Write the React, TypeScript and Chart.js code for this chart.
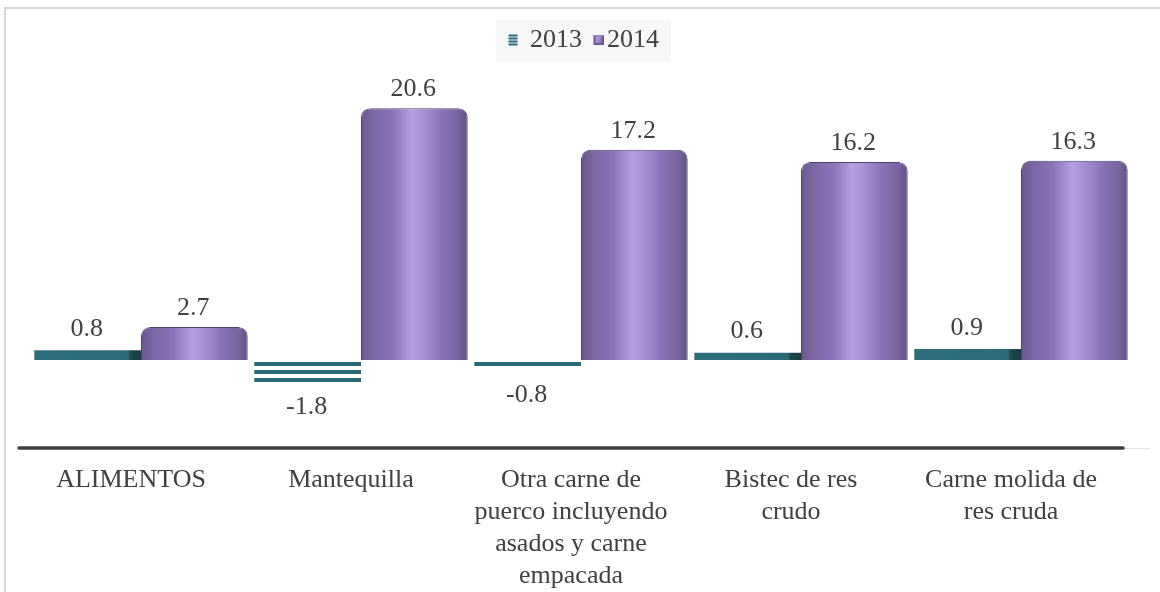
import React, { useEffect, useRef } from 'react';
import { Chart, registerables } from 'chart.js';

Chart.register(...registerables);

const categories: string[][] = [
  ['ALIMENTOS'],
  ['Mantequilla'],
  ['Otra carne de', 'puerco incluyendo', 'asados y carne', 'empacada'],
  ['Bistec de res', 'crudo'],
  ['Carne molida de', 'res cruda'],
];
const seriesNames = ['2013', '2014'];
const values2013 = [0.8, -1.8, -0.8, 0.6, 0.9];
const values2014 = [2.7, 20.6, 17.2, 16.2, 16.3];
const yMin = -7.2;
const yMax = 24.3;

const FONT = '"Liberation Serif", "Times New Roman", serif';
const TEXT = '#404040';
const TEAL = '#2b6b77';
const CAT_PCT = 0.97;
const BAR_PCT = 1;

function barRange(chart: any, dataIndex: number, datasetIndex: number) {
  const x = chart.scales.x;
  const cat = x.getPixelForValue(dataIndex);
  const catW = (x.right - x.left) / categories.length;
  const slot = (catW * CAT_PCT) / 2;
  const left = cat - (catW * CAT_PCT) / 2 + slot * datasetIndex + (slot * (1 - BAR_PCT)) / 2;
  return { left, width: slot * BAR_PCT };
}

function makeStripePattern(ctx: CanvasRenderingContext2D) {
  const c = document.createElement('canvas');
  c.width = 8;
  c.height = 8;
  const g = c.getContext('2d')!;
  g.fillStyle = '#ffffff';
  g.fillRect(0, 0, 8, 8);
  g.fillStyle = TEAL;
  g.fillRect(0, 2, 8, 4);
  return ctx.createPattern(c, 'repeat');
}

// icon canvases are 20px wide; the visible glyph sits at a chosen offset
function makeIcon2013() {
  const c = document.createElement('canvas');
  c.width = 20;
  c.height = 12;
  const g = c.getContext('2d')!;
  g.fillStyle = TEAL;
  for (let y = 0; y < 12; y += 3) g.fillRect(2, y + 0.5, 9, 2);
  return c;
}

function makeIcon2014() {
  const c = document.createElement('canvas');
  c.width = 20;
  c.height = 12;
  const g = c.getContext('2d')!;
  const ox = 10;
  const oy = 1;
  const s = 10;
  g.fillStyle = '#6a5790';
  g.fillRect(ox, oy, s, s);
  g.fillStyle = '#a088cc';
  g.beginPath();
  g.moveTo(ox, oy);
  g.lineTo(ox + s, oy);
  g.lineTo(ox + s / 2, oy + s / 2);
  g.closePath();
  g.fill();
  const grad = g.createLinearGradient(ox + 2, oy + 2, ox + s - 2, oy + s - 2);
  grad.addColorStop(0, '#b69de2');
  grad.addColorStop(1, '#8d75ba');
  g.fillStyle = grad;
  g.fillRect(ox + 2, oy + 2, s - 4, s - 4);
  return c;
}

const LEGEND_SHIFT = 6.5;

const extrasPlugin = {
  id: 'extras',
  afterLayout(chart: any) {
    const lg = chart.legend;
    if (lg) {
      lg.left += LEGEND_SHIFT;
      lg.right += LEGEND_SHIFT;
    }
  },
  beforeDraw(chart: any) {
    const ctx = chart.ctx;
    const hb = chart.legend && chart.legend.legendHitBoxes;
    if (hb && hb.length) {
      const l = hb[0].left - 20;
      const r = hb[hb.length - 1].left + hb[hb.length - 1].width + 12;
      ctx.save();
      ctx.fillStyle = '#f7f7f7';
      ctx.fillRect(l, 20, r - l, 42);
      ctx.restore();
    }
  },
  beforeDatasetsDraw(chart: any) {
    const ctx = chart.ctx;
    const x = chart.scales.x;
    const y = chart.chartArea.bottom;
    ctx.save();
    ctx.strokeStyle = '#e4e4e4';
    ctx.lineWidth = 1;
    ctx.beginPath();
    ctx.moveTo(x.right - 8, y + 0.5);
    ctx.lineTo(x.right + 19, y + 0.5);
    ctx.stroke();
    ctx.strokeStyle = '#3f3f3f';
    ctx.lineWidth = 3.5;
    ctx.lineCap = 'round';
    ctx.beginPath();
    ctx.moveTo(x.left - 12, y);
    ctx.lineTo(x.right - 8, y);
    ctx.stroke();
    ctx.restore();
  },
  afterDatasetsDraw(chart: any) {
    const ctx = chart.ctx;
    ctx.save();
    ctx.font = '26px ' + FONT;
    ctx.fillStyle = TEXT;
    ctx.textAlign = 'center';
    ctx.textBaseline = 'middle';
    chart.data.datasets.forEach((ds: any, di: number) => {
      const meta = chart.getDatasetMeta(di);
      meta.data.forEach((el: any, i: number) => {
        const v = ds.data[i];
        const up = di === 1 ? 19 : 21;
        const ly = v >= 0 ? el.y - up : el.y + 25;
        ctx.fillText(v.toFixed(1), el.x - 1, ly);
      });
    });
    ctx.restore();
  },
};

export default function App() {
  const ref = useRef<HTMLCanvasElement>(null);
  useEffect(() => {
    const canvas = ref.current!;
    const ctx0 = canvas.getContext('2d')!;
    const stripe = makeStripePattern(ctx0);
    const icon2013 = makeIcon2013();
    const icon2014 = makeIcon2014();

    const chart = new Chart(canvas, {
      type: 'bar',
      data: {
        labels: categories as any,
        datasets: [
          {
            label: seriesNames[0],
            data: values2013,
            backgroundColor: (c: any) => {
              const chart = c.chart;
              if (!chart.chartArea || c.dataIndex === undefined) return TEAL;
              const v = values2013[c.dataIndex];
              if (v < 0) return stripe;
              const { left, width } = barRange(chart, c.dataIndex, 0);
              const g = chart.ctx.createLinearGradient(left, 0, left + width, 0);
              g.addColorStop(0, '#2f6f7b');
              g.addColorStop(0.88, '#2b6a76');
              g.addColorStop(0.9, '#1e4850');
              g.addColorStop(1, '#1a3d44');
              return g;
            },
            borderWidth: 0,
            categoryPercentage: CAT_PCT,
            barPercentage: BAR_PCT,
          },
          {
            label: seriesNames[1],
            data: values2014,
            backgroundColor: (c: any) => {
              const chart = c.chart;
              if (!chart.chartArea || c.dataIndex === undefined) return '#8a73b3';
              const { left, width } = barRange(chart, c.dataIndex, 1);
              const g = chart.ctx.createLinearGradient(left, 0, left + width, 0);
              g.addColorStop(0, '#6a588c');
              g.addColorStop(0.12, '#7c67a5');
              g.addColorStop(0.3, '#8a73b6');
              g.addColorStop(0.48, '#b79fe3');
              g.addColorStop(0.56, '#ad94da');
              g.addColorStop(0.75, '#8b74b6');
              g.addColorStop(0.92, '#77639f');
              g.addColorStop(1, '#5e4e80');
              return g;
            },
            borderColor: '#4e4272',
            borderWidth: { top: 1, left: 1, right: 1, bottom: 0 },
            borderRadius: 9,
            borderSkipped: 'start',
            categoryPercentage: CAT_PCT,
            barPercentage: BAR_PCT,
          },
        ],
      },
      options: {
        responsive: false,
        animation: false,
        devicePixelRatio: 1,
        layout: { padding: { left: 31, right: 29, top: 16, bottom: 0 } },
        plugins: {
          tooltip: { enabled: false },
          legend: {
            display: true,
            position: 'top',
            labels: {
              usePointStyle: true,
              boxWidth: 1,
              boxHeight: 12,
              padding: 11,
              color: TEXT,
              font: { family: FONT, size: 26 },
              generateLabels: () => [
                { text: seriesNames[0], pointStyle: icon2013 as any, fontColor: TEXT, datasetIndex: 0, hidden: false, lineWidth: 0, strokeStyle: 'rgba(0,0,0,0)', fillStyle: 'rgba(0,0,0,0)' },
                { text: seriesNames[1], pointStyle: icon2014 as any, fontColor: TEXT, datasetIndex: 1, hidden: false, lineWidth: 0, strokeStyle: 'rgba(0,0,0,0)', fillStyle: 'rgba(0,0,0,0)' },
              ],
            },
          },
        },
        scales: {
          x: {
            display: true,
            grid: { display: false, drawTicks: false, tickLength: 0 },
            border: { display: false },
            ticks: {
              color: TEXT,
              font: { family: FONT, size: 26, lineHeight: 32 / 26 },
              padding: 16,
              labelOffset: -10,
              autoSkip: false,
              maxRotation: 0,
              minRotation: 0,
            },
            afterFit: (scale: any) => {
              scale.height = 144;
            },
          },
          y: {
            display: false,
            min: yMin,
            max: yMax,
            grid: { display: false },
          },
        },
      },
      plugins: [extrasPlugin],
    } as any);
    return () => chart.destroy();
  }, []);

  return (
    <div style={{ position: 'fixed', left: 0, top: 0, width: 1160, height: 592, overflow: 'hidden', background: '#ffffff' }}>
      <div style={{ position: 'absolute', left: 4, top: 7, width: 1300, height: 800, border: '2px solid #d6d6d6', boxSizing: 'border-box' }} />
      <canvas ref={ref} width={1160} height={592} style={{ position: 'absolute', left: 0, top: 0, width: 1160, height: 592 }} />
    </div>
  );
}
